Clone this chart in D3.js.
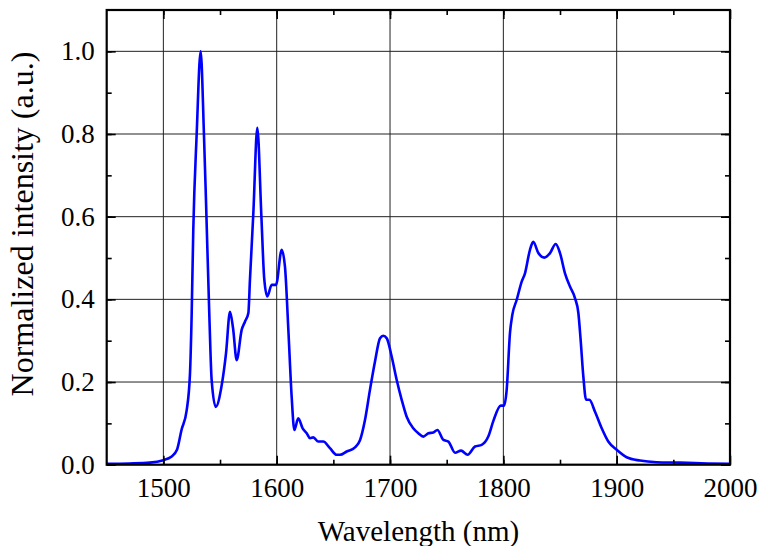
<!DOCTYPE html>
<html><head><meta charset="utf-8">
<script src="https://cdn.jsdelivr.net/npm/d3@7"></script>
<style>body{margin:0;background:#fff}svg{display:block}text{font-family:"Liberation Serif","Times New Roman",serif;fill:#000}</style>
</head><body>
<script>
const wavelength = [1450,1470,1488,1500,1507,1512,1516,1520.6,1523.5,1525,1526.4,1529.4,1532.9,1535.8,1537.6,1540.5,1542.6,1546.2,1551.5,1555.3,1558.8,1561.5,1564.7,1569.1,1572,1575,1576.4,1579.4,1582.9,1586.5,1589,1591.7,1595.6,1599.4,1604.4,1607.3,1610.3,1613.2,1615.6,1619,1622.9,1626.5,1629.4,1632.3,1636.7,1641.1,1647,1652.9,1655.9,1661.8,1669.1,1673.5,1677.9,1682.3,1686.7,1691.2,1694.1,1697.1,1701.5,1705.9,1710.3,1714.7,1720.5,1725,1729.4,1733.8,1738.2,1741.8,1747.1,1751.5,1757.4,1762.7,1768.5,1775,1780.9,1786.7,1791.2,1797.7,1800.6,1802.9,1805.9,1807.9,1811.8,1816.2,1819.1,1823.5,1826.4,1830.9,1836.2,1841.2,1846.2,1850,1854.4,1858.8,1863.2,1866.2,1868.2,1870.6,1873,1875.9,1880.9,1886.8,1892.6,1900,1908.8,1920.6,1935.3,1956,1980,2000];
const intensity = [0.002,0.003,0.005,0.011,0.019,0.036,0.084,0.132,0.221,0.367,0.568,0.80,1.0,0.80,0.64,0.367,0.205,0.140,0.193,0.270,0.370,0.33,0.253,0.326,0.346,0.367,0.447,0.609,0.815,0.60,0.45,0.407,0.435,0.435,0.520,0.479,0.326,0.165,0.084,0.112,0.088,0.076,0.064,0.066,0.056,0.056,0.040,0.024,0.024,0.032,0.042,0.059,0.108,0.181,0.249,0.306,0.312,0.306,0.261,0.205,0.157,0.116,0.088,0.076,0.068,0.076,0.078,0.084,0.060,0.056,0.029,0.034,0.024,0.044,0.048,0.068,0.106,0.143,0.143,0.180,0.320,0.362,0.399,0.443,0.463,0.520,0.539,0.512,0.501,0.512,0.534,0.512,0.463,0.431,0.403,0.367,0.302,0.213,0.157,0.157,0.128,0.088,0.056,0.036,0.018,0.010,0.006,0.005,0.003,0.002];
const xTicks = [1500,1600,1700,1800,1900,2000];
const xMinor = [1500,1550,1600,1650,1700,1750,1800,1850,1900,1950];
const yTicks = [0.0,0.2,0.4,0.6,0.8,1.0];
const yMinor = [0.1,0.2,0.3,0.4,0.5,0.6,0.7,0.8,0.9,1.0];

const W=761,H=546, L=106.7, R=730, T=10, B=464.7;
const svg=d3.select("body").append("svg").attr("width",W).attr("height",H);
const x=d3.scaleLinear().domain([1450,2000]).range([L,R]);
const y=d3.scaleLinear().domain([0,1.1]).range([B,T]);

// grid
const g=svg.append("g");
g.selectAll(".gx").data(xTicks.filter(d=>d<2000)).enter().append("line")
 .attr("x1",d=>x(d)).attr("x2",d=>x(d)).attr("y1",T).attr("y2",B).attr("stroke","#222").attr("stroke-width",1);
g.selectAll(".gy").data(yTicks.filter(d=>d>0)).enter().append("line")
 .attr("y1",d=>y(d)).attr("y2",d=>y(d)).attr("x1",L).attr("x2",R).attr("stroke","#222").attr("stroke-width",1);

// line
const line=d3.line().x((d,i)=>x(wavelength[i])).y(d=>y(d)).curve(d3.curveMonotoneX);
svg.append("path").datum(intensity).attr("d",line).attr("fill","none").attr("stroke","#0000ff").attr("stroke-width",2.6).attr("stroke-linejoin","round");

// axes
const xb=d3.axisBottom(x).tickValues(xMinor).tickSizeInner(-5).tickSizeOuter(0).tickFormat("");
const xbM=d3.axisBottom(x).tickValues(xTicks).tickSizeInner(-9).tickSizeOuter(0).tickPadding(13).tickFormat(d3.format("d"));
const xt=d3.axisTop(x).tickValues(xMinor).tickSizeInner(-5).tickSizeOuter(0).tickFormat("");
const xtM=d3.axisTop(x).tickValues(xTicks).tickSizeInner(-9).tickSizeOuter(0).tickFormat("");
const yl=d3.axisLeft(y).tickValues(yMinor).tickSizeInner(-5).tickSizeOuter(0).tickFormat("");
const ylM=d3.axisLeft(y).tickValues(yTicks).tickSizeInner(-9).tickSizeOuter(0).tickPadding(12).tickFormat(d3.format(".1f"));
const yr=d3.axisRight(y).tickValues(yMinor).tickSizeInner(-5).tickSizeOuter(0).tickFormat("");
const yrM=d3.axisRight(y).tickValues(yTicks).tickSizeInner(-9).tickSizeOuter(0).tickFormat("");
function draw(ax,tr){const a=svg.append("g").attr("transform",tr).call(ax);a.select(".domain").remove();a.selectAll("line").attr("stroke","#000").attr("stroke-width",1.6);a.selectAll("text").style("font-size","27px").attr("fill","#000");return a;}
draw(xb,`translate(0,${B})`);draw(xbM,`translate(0,${B})`);
draw(xt,`translate(0,${T})`);draw(xtM,`translate(0,${T})`);
draw(yl,`translate(${L},0)`);draw(ylM,`translate(${L},0)`);
draw(yr,`translate(${R},0)`);draw(yrM,`translate(${R},0)`);

svg.append("rect").attr("x",L).attr("y",T).attr("width",R-L).attr("height",B-T).attr("fill","none").attr("stroke","#000").attr("stroke-width",2.2);

svg.append("text").attr("x",418.5).attr("y",541).attr("text-anchor","middle").style("font-size","29px").text("Wavelength (nm)");
svg.append("text").attr("transform",`translate(33,224) rotate(-90)`).attr("text-anchor","middle").style("font-size","32px").text("Normalized intensity (a.u.)");
</script>
</body></html>
